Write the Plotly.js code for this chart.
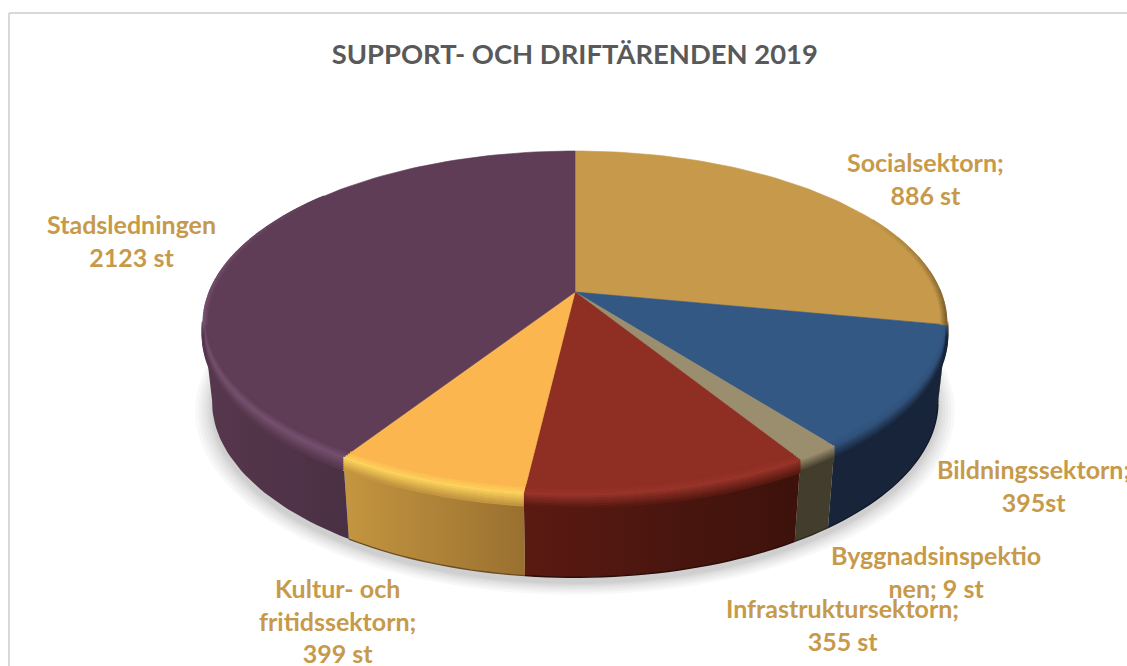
<!DOCTYPE html>
<html>
<head>
<meta charset="utf-8">
<script src="https://cdn.plot.ly/plotly-3.0.1.min.js"></script>
<style>html,body{margin:0;padding:0;background:#fff}#c{width:1127px;height:666px}</style>
</head>
<body>
<div id="c"></div>
<script>
// Data
const titleText = 'SUPPORT- OCH DRIFTÄRENDEN 2019';
const categories = ['Socialsektorn', 'Bildningssektorn', 'Byggnadsinspektionen', 'Infrastruktursektorn', 'Kultur- och fritidssektorn', 'Stadsledningen'];
// Printed labels
const printedCounts = [886, 395, 9, 355, 399, 2123];
const labelTexts = ['Socialsektorn;<br>886 st', 'Bildningssektorn;<br>395st', 'Byggnadsinspektio<br>nen; 9 st', 'Infrastruktursektorn;<br>355 st', 'Kultur- och<br>fritidssektorn;<br>399 st', 'Stadsledningen<br>2123 st'];
// Slice sizes as drawn in the picture (degrees of the pie; they differ from the printed counts)
const drawnDegrees = [101, 41.6, 6, 38, 25.9, 147.5];

// Styles
const topColors  = ['#c69a4a', '#345884', '#9b8e6e', '#8f2e23', '#fbb64f', '#5f3d56'];
const rimColors  = ['#a67c36', '#2f5078', '#9b8e6e', '#98342a', '#fdd35c', '#75506f'];
const wallStart  = ['#7e5f2e', '#17243a', '#423d2c', '#5a1a12', '#c49640', '#57374d'];
const wallEnd    = ['#7e5f2e', '#17243a', '#423d2c', '#3c120b', '#9a7030', '#4a3044'];
const labelPos   = [[925, 178.5], [1033, 485], [936, 571.5], [842, 624], [337, 620], [131, 240]];

// Perspective of the pie
const topPlane = {cx: 575, cy: 292, R: 366, B: 166.4, k: 0.18};
const botPlane = {cx: 575, cy: 370, R: 357, B: 170, k: 0.18};
function proj(pl, deg, r, dy) {
  const a = deg * Math.PI / 180, u = r * Math.sin(a), v = -r * Math.cos(a), s = 1 / (1 - pl.k * v);
  return [pl.cx + pl.R * u * s, pl.cy + pl.B * v * s + (dy || 0)];
}
function arc(pl, a0, a1, rf, dy) {
  const pts = [], n = Math.max(2, Math.ceil(Math.abs(a1 - a0) / 1.5));
  for (let i = 0; i <= n; i++) {
    const a = a0 + (a1 - a0) * i / n;
    pts.push(proj(pl, a, typeof rf === 'function' ? rf(a) : rf, dy));
  }
  return pts;
}
function hex(c) { return [1, 3, 5].map(i => parseInt(c.substr(i, 2), 16)); }
function mix(a, b, t) {
  const A = hex(a), B = hex(b);
  return 'rgb(' + A.map((x, i) => Math.round(x + (B[i] - x) * t)).join(',') + ')';
}
function xy(pts) { return {x: pts.map(p => p[0]), y: pts.map(p => p[1])}; }
const traces = [];
function poly(pts, o) {
  traces.push(Object.assign({type: 'scatter', mode: 'lines', fill: 'toself', hoverinfo: 'skip', line: {width: 0}}, xy(pts.concat([pts[0]])), o));
}
function stroke(pts, color, width) {
  traces.push(Object.assign({type: 'scatter', mode: 'lines', hoverinfo: 'skip', line: {color: color, width: width, simplify: false}}, xy(pts)));
}

// soft shadow under the pie
[1.045, 1.036, 1.028, 1.020, 1.013, 1.007, 1.002].forEach(sc => {
  poly(arc(botPlane, 0, 360, sc, 6), {fillcolor: 'rgba(0,0,0,0.028)'});
});

// slice angles
let run = 0;
const spans = drawnDegrees.map(d => { const s = [run, run + d]; run += d; return s; });

// side walls: visible between the two tangent angles of the outline
const wallFrom = 100, wallTo = 260;
spans.forEach((sp, i) => {
  const a0 = Math.max(sp[0], wallFrom), a1 = Math.min(sp[1], wallTo);
  if (a1 <= a0) return;
  const pts = arc(topPlane, a0, a1, 1).concat(arc(botPlane, a1, a0, 1));
  poly(pts, {fillcolor: wallStart[i], fillgradient: {type: 'horizontal', colorscale: [[0, wallStart[i]], [1, wallEnd[i]]]}});
  if (i !== 5) stroke(arc(botPlane, a0, a1, 1), mix(wallEnd[i], '#000000', 0.3), 1.4);
});

// top faces
spans.forEach((sp, i) => {
  const pts = [[topPlane.cx, topPlane.cy]].concat(arc(topPlane, sp[0], sp[1], 1));
  poly(pts, {fillcolor: topColors[i], line: {width: 0.6, color: topColors[i]}});
});

// bevel along the front edge: inside the face it follows the slice sides, on the wall it runs straight down
const offs = [-6, -4, -2, 0, 2, 4, 6, 8, 10, 12];
spans.forEach((sp, i) => {
  const a0 = Math.max(sp[0], wallFrom), a1 = Math.min(sp[1], wallTo);
  if (a1 <= a0) return;
  offs.forEach(dy => {
    const col = dy <= 0 ? mix(topColors[i], rimColors[i], (dy + 6) / 6) : mix(rimColors[i], wallStart[i], dy / 12);
    if (dy < 0) {
      stroke(arc(topPlane, a0, a1, a => 1 + dy * Math.max(Math.abs(Math.cos(a * Math.PI / 180)), 0.15) / 200), col, 2.6);
    } else {
      stroke(arc(topPlane, a0, a1, 1, dy), col, 2.6);
    }
  });
});

// bevel along the two side edges, fading out along the arc
function edgeBevel(from, to, depths, base, edge) {
  const step = (to - from) / 10;
  for (let n = 0; n < 10; n++) {
    const a0 = from + n * step, a1 = a0 + step * 1.05, f = (n + 1) / 10;
    depths.forEach((d, j) => {
      stroke(arc(topPlane, a0, a1, 1 - d), mix(base, edge, f * (j + 1) / depths.length), 2);
    });
  }
}
edgeBevel(62, 101, [0.014, 0.010, 0.006, 0.002], '#c69a4a', '#7e5f2e');
edgeBevel(310, 259, [0.010, 0.006, 0.002], '#5f3d56', '#75506f');

const annotations = labelTexts.map((t, i) => ({
  text: t, x: labelPos[i][0], y: labelPos[i][1], xref: 'x', yref: 'y', showarrow: false,
  xanchor: 'center', yanchor: 'middle', align: 'center',
  font: {family: 'Lato, Carlito, sans-serif', size: 25, color: '#c69a4a', weight: 700}
}));

const layout = {
  width: 1127, height: 666,
  margin: {l: 0, r: 0, t: 0, b: 0},
  paper_bgcolor: '#ffffff', plot_bgcolor: '#ffffff',
  showlegend: false,
  title: {text: '<b>' + titleText + '</b>', x: 0.51, xref: 'paper', xanchor: 'center', y: 0.918, yref: 'paper', yanchor: 'middle',
          font: {family: 'Lato, Carlito, sans-serif', size: 27.4, color: '#595959'}},
  xaxis: {range: [0, 1127], visible: false, fixedrange: true},
  yaxis: {range: [666, 0], visible: false, fixedrange: true},
  shapes: [
    {type: 'line', xref: 'x', yref: 'y', x0: 9, y0: 13, x1: 1127, y1: 13, line: {color: '#d9d9d9', width: 2}},
    {type: 'line', xref: 'x', yref: 'y', x0: 9, y0: 13, x1: 9, y1: 666, line: {color: '#d9d9d9', width: 2}}
  ],
  annotations: annotations
};
Plotly.newPlot('c', traces, layout, {displayModeBar: false, staticPlot: true});
</script>
</body>
</html>
